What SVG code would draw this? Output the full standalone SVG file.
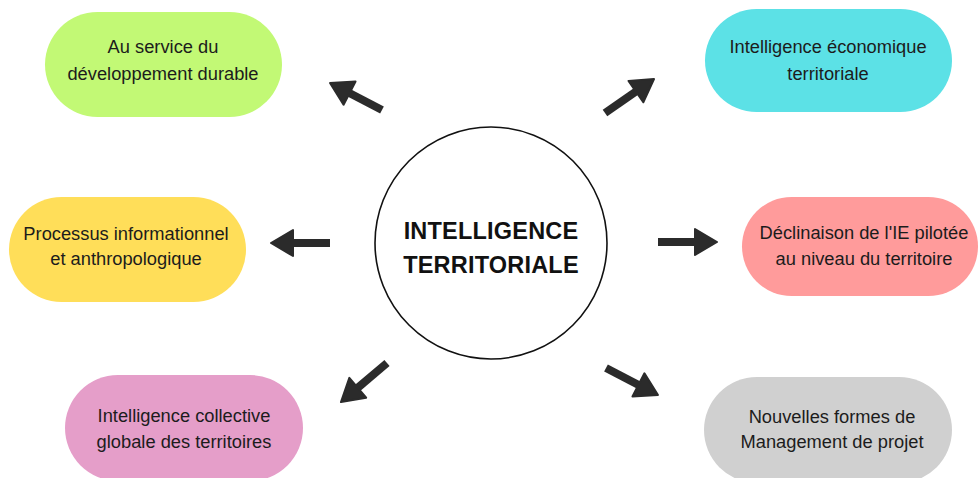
<svg xmlns="http://www.w3.org/2000/svg" width="980" height="478" viewBox="0 0 980 478">
<style>
.lbl{font-family:"Liberation Sans",Arial,sans-serif;font-size:18.3px;fill:#1c1c1c;text-anchor:middle}
.ttl{font-family:"Liberation Sans",Arial,sans-serif;font-size:23.5px;font-weight:bold;fill:#111;text-anchor:middle;letter-spacing:0.2px}
.arr{stroke:#2b2b2b;stroke-width:8;fill:none;marker-end:url(#head)}
</style>
<defs>
<marker id="head" markerUnits="userSpaceOnUse" viewBox="-2 -2 26 30" markerWidth="26" markerHeight="30" refX="4" refY="13" orient="auto">
<path d="M0,0 L22,13 L0,26 Z" fill="#2b2b2b" stroke="#2b2b2b" stroke-width="2" stroke-linejoin="round"/>
</marker>
</defs>
<rect width="980" height="478" fill="#fff"/>
<g id="center">
<circle cx="491" cy="243" r="116" fill="#fff" stroke="#111" stroke-width="1.6"/>
<text class="ttl" x="491" y="239">INTELLIGENCE</text>
<text class="ttl" x="491" y="273">TERRITORIALE</text>
</g>
<g id="n-dev">
<rect x="45" y="12" width="237" height="105" rx="52.5" fill="#c2f975"/>
<text class="lbl" x="163" y="53">Au service du</text>
<text class="lbl" x="163" y="80">développement durable</text>
</g>
<g id="n-eco">
<rect x="705" y="9" width="247" height="103" rx="51.5" fill="#5ce1e6"/>
<text class="lbl" x="828" y="53">Intelligence économique</text>
<text class="lbl" x="828" y="80">territoriale</text>
</g>
<g id="n-proc">
<rect x="9" y="197" width="237" height="105" rx="52.5" fill="#ffde59"/>
<text class="lbl" x="126" y="240">Processus informationnel</text>
<text class="lbl" x="126" y="265">et anthropologique</text>
</g>
<g id="n-decl">
<rect x="742" y="197" width="236" height="99" rx="49.5" fill="#ff9b9b"/>
<text class="lbl" x="864" y="239">Déclinaison de l'IE pilotée</text>
<text class="lbl" x="864" y="265">au niveau du territoire</text>
</g>
<g id="n-coll">
<rect x="65" y="375" width="238" height="106" rx="53" fill="#e59ec9"/>
<text class="lbl" x="184" y="422">Intelligence collective</text>
<text class="lbl" x="184" y="448">globale des territoires</text>
</g>
<g id="n-mgmt">
<rect x="704" y="377" width="248" height="106" rx="53" fill="#d0d0d0"/>
<text class="lbl" x="832" y="423">Nouvelles formes de</text>
<text class="lbl" x="832" y="448">Management de projet</text>
</g>
<g id="connectors">
<line class="arr" x1="382" y1="110" x2="346" y2="91.3"/>
<line class="arr" x1="605" y1="113" x2="639.2" y2="89.3"/>
<line class="arr" x1="330" y1="243" x2="289" y2="243"/>
<line class="arr" x1="658" y1="242" x2="699" y2="242"/>
<line class="arr" x1="387" y1="363" x2="354.7" y2="390.4"/>
<line class="arr" x1="606" y1="368" x2="642" y2="386.7"/>
</g>
</svg>
